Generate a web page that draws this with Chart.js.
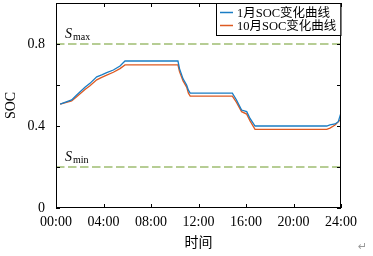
<!DOCTYPE html>
<html>
<head>
<meta charset="utf-8">
<script src="https://cdn.jsdelivr.net/npm/chart.js@4"></script>
<style>
    html, body { margin: 0; padding: 0; background: #fff; }
</style>
</head>
<body>
<soc-chart></soc-chart>
<script>
// hours of the day (x values)
const hours = [0.35, 1.32, 1.74, 2.44, 2.86, 3.43, 3.85, 4.27, 4.83, 5.39, 5.81,
    10.27, 10.4, 10.7, 11.0, 11.15, 11.3,
    14.85, 15.2, 15.63, 16.06, 16.34, 16.76,
    22.8, 23.07, 23.5, 23.77, 23.97, 24];
const socJan = [0.507, 0.527, 0.551, 0.589, 0.608, 0.640, 0.649, 0.660, 0.673, 0.693, 0.717,
    0.717, 0.68, 0.63, 0.60, 0.575, 0.56,
    0.56, 0.527, 0.478, 0.47, 0.437, 0.40,
    0.40, 0.405, 0.41, 0.421, 0.459, 0.465];
const socOct = [0.507, 0.522, 0.543, 0.578, 0.596, 0.625, 0.637, 0.648, 0.662, 0.68, 0.698,
    0.698, 0.665, 0.62, 0.59, 0.56, 0.546,
    0.546, 0.515, 0.47, 0.458, 0.425, 0.384,
    0.384, 0.39, 0.405, 0.42, 0.432, 0.434];
const seriesLabels = ['1月SOC变化曲线', '10月SOC变化曲线'];
const xTickLabels = ['00:00', '04:00', '08:00', '12:00', '16:00', '20:00', '24:00'];
const yTickValues = [0, 0.4, 0.8];
const yTickLabels = ['0', '0.4', '0.8'];
const sMax = 0.8;
const sMin = 0.2;

const FONT = '"Liberation Serif", "Noto Sans CJK SC", serif';

class SocChart extends HTMLElement {

    constructor() {
        super();
        this.attachShadow({ mode: 'open' });
        this.chart = null;
    }

    connectedCallback() {
        this.render();
        this.drawChart();
    }

    render() {
        this.shadowRoot.innerHTML = `
            <style>
                :host { display: block; position: relative; width: 373px; height: 256px; }
                .ret { position: absolute; left: 358px; top: 240px; font: 11px "DejaVu Sans"; color: #999; }
            </style>
            <canvas width="373" height="256"></canvas>
            <span class="ret">↵</span>
        `;
    }

    drawChart() {
        const ctx = this.shadowRoot.querySelector('canvas').getContext('2d');
        const toPoints = arr => arr.map((v, i) => ({ x: hours[i], y: v }));
        const limitLine = v => [{ x: 0, y: v }, { x: 24, y: v }];

        const frame = {
            id: 'frame',
            afterDatasetsDraw(chart) {
                const c = chart.ctx;
                const { left, right, top, bottom } = chart.chartArea;
                const xs = chart.scales.x, ys = chart.scales.y;
                c.save();
                c.strokeStyle = '#000';
                c.lineWidth = 1;
                c.strokeRect(Math.round(left) + 0.5, Math.round(top) + 0.5,
                    Math.round(right - left) - 1, Math.round(bottom - top) - 1);
                // inward ticks
                c.beginPath();
                xs.ticks.forEach(t => {
                    const px = Math.round(xs.getPixelForValue(t.value)) + 0.5;
                    c.moveTo(px, bottom); c.lineTo(px, bottom - 4);
                    c.moveTo(px, top); c.lineTo(px, top + 4);
                });
                ys.ticks.forEach(t => {
                    const py = Math.round(ys.getPixelForValue(t.value)) + 0.5;
                    c.moveTo(left, py); c.lineTo(left + 4, py);
                    c.moveTo(right, py); c.lineTo(right - 4, py);
                });
                c.stroke();

                // S_max / S_min labels
                c.fillStyle = '#000';
                c.textBaseline = 'alphabetic';
                [[sMax, 'max'], [sMin, 'min']].forEach(([v, sub]) => {
                    const py = ys.getPixelForValue(v);
                    c.font = 'italic 14px ' + FONT;
                    c.fillText('S', left + 9, py - 6.5);
                    const w = c.measureText('S').width;
                    c.font = '10px ' + FONT;
                    c.fillText(sub, left + 9 + w + 1, py - 4.5);
                });

                // legend
                const lx = 216, ly = Math.round(top) + 0.5, lw = right - lx - 0.5, lh = 32;
                c.fillStyle = '#fff';
                c.fillRect(lx, ly, lw, lh);
                c.strokeRect(lx + 0.5, ly, lw, lh);
                c.font = '12.5px ' + FONT;
                c.textBaseline = 'middle';
                chart.data.datasets.slice(0, 2).forEach((ds, i) => {
                    const yy = ly + 9 + i * 13;
                    c.strokeStyle = ds.borderColor;
                    c.lineWidth = 1.5;
                    c.beginPath(); c.moveTo(lx + 4, yy); c.lineTo(lx + 17, yy); c.stroke();
                    c.fillStyle = '#000';
                    c.fillText(ds.label, lx + 21, yy + 1);
                });
                c.restore();
            }
        };

        this.chart = new Chart(ctx, {
            type: 'line',
            data: {
                datasets: [
                    { label: seriesLabels[0], data: toPoints(socJan), borderColor: '#1A7DC4', borderWidth: 1.3 },
                    { label: seriesLabels[1], data: toPoints(socOct), borderColor: '#DD5A22', borderWidth: 1.3 },
                    { label: 'Smax', data: limitLine(sMax), borderColor: '#6E9B2A', borderWidth: 1.1, borderDash: [8.5, 3.5] },
                    { label: 'Smin', data: limitLine(sMin), borderColor: '#6E9B2A', borderWidth: 1.1, borderDash: [8.5, 3.5] }
                ]
            },
            options: {
                responsive: false,
                animation: false,
                layout: { padding: { top: 3, right: 32, left: 0, bottom: 0 } },
                elements: { point: { radius: 0 }, line: { tension: 0 } },
                plugins: { legend: { display: false }, tooltip: { enabled: false } },
                scales: {
                    x: {
                        type: 'linear',
                        min: 0,
                        max: 24,
                        grid: { display: false, drawTicks: false },
                        border: { display: false },
                        ticks: {
                            stepSize: 4,
                            padding: 6,
                            maxRotation: 0,
                            color: '#000',
                            font: { family: FONT, size: 14 },
                            callback: (v, i) => xTickLabels[i]
                        },
                        title: {
                            display: true,
                            text: '时间',
                            color: '#000',
                            font: { family: FONT, size: 14 },
                            padding: { top: 0, bottom: 4 }
                        },
                        afterFit: s => { s.height = 48; s.paddingLeft = 0; s.paddingRight = 0; }
                    },
                    y: {
                        min: 0,
                        max: 1,
                        grid: { display: false, drawTicks: false },
                        border: { display: false },
                        ticks: {
                            stepSize: 0.2,
                            padding: 11,
                            color: '#000',
                            font: { family: FONT, size: 14 },
                            callback: v => {
                                const k = yTickValues.findIndex(t => Math.abs(t - v) < 1e-6);
                                return k >= 0 ? yTickLabels[k] : '';
                            }
                        },
                        title: {
                            display: true,
                            text: 'SOC',
                            color: '#000',
                            font: { family: FONT, size: 14 },
                            padding: { top: 3, bottom: 0 }
                        },
                        afterFit: s => { s.width = 56; s.paddingTop = 0; s.paddingBottom = 0; }
                    }
                }
            },
            plugins: [frame]
        });
    }
}

customElements.define('soc-chart', SocChart);
</script>
</body>
</html>
